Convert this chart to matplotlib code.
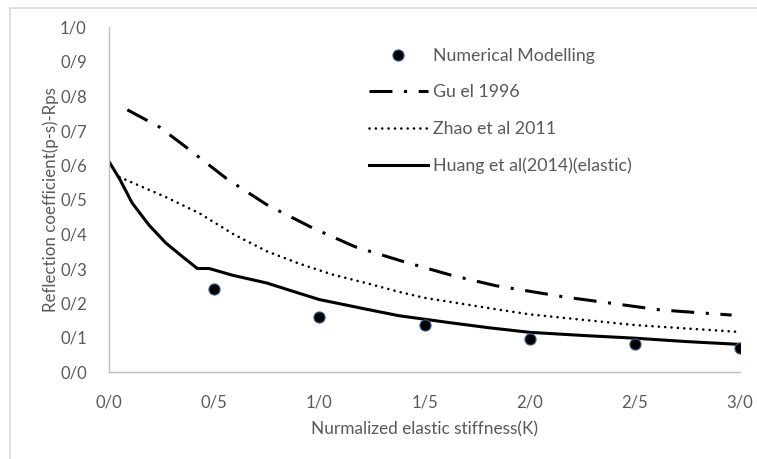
import matplotlib
matplotlib.use("Agg")
import matplotlib.pyplot as plt
from matplotlib.patches import Rectangle
from matplotlib.ticker import FuncFormatter, MultipleLocator

# numerical modelling points
num_x = [0.5, 1.0, 1.5, 2.0, 2.5, 3.0]
num_y = [0.24, 0.16, 0.136, 0.096, 0.081, 0.07]

# Gu el 1996
gu_x = [0.087, 0.24, 0.37, 0.56, 0.75, 0.97, 1.17, 1.40, 1.63, 1.84, 2.16, 2.62, 2.96]
gu_y = [0.76, 0.71, 0.65, 0.56, 0.485, 0.417, 0.363, 0.32, 0.28, 0.25, 0.218, 0.18, 0.165]

# Zhao et al 2011
zhao_x = [0.05, 0.27, 0.43, 0.59, 0.75, 0.9, 1.06, 1.24, 1.38, 1.5, 1.86, 2.0, 2.5, 3.0]
zhao_y = [0.565, 0.507, 0.46, 0.40, 0.35, 0.315, 0.283, 0.255, 0.232, 0.215, 0.18, 0.167, 0.136, 0.116]

# Huang et al (2014) elastic
huang_x = [0.0, 0.05, 0.11, 0.19, 0.27, 0.35, 0.42, 0.476, 0.59, 0.75, 0.9, 1.0, 1.24, 1.38, 1.5, 1.62, 1.81, 2.0, 2.25, 2.5, 2.75, 3.0]
huang_y = [0.61, 0.56, 0.49, 0.426, 0.374, 0.334, 0.30, 0.30, 0.28, 0.258, 0.229, 0.21, 0.18, 0.163, 0.153, 0.143, 0.128, 0.115, 0.106, 0.098, 0.088, 0.08]

TEXT = "#595959"
plt.rcParams['font.family'] = ['Lato', 'DejaVu Sans']

fig = plt.figure(figsize=(7.57, 4.59), dpi=100)
# chart frame (cropped at right and bottom)
fig.patches.append(Rectangle((10 / 757, -0.1), 1.1, 1 - 8 / 459 + 0.1,
                             transform=fig.transFigure, fill=False,
                             edgecolor="#d9d9d9", lw=1.2))

ax = fig.add_axes([109 / 757, 1 - 372 / 459, 631 / 757, 345 / 459])

ax.plot(num_x, num_y, 'o', color='black', markeredgecolor='#2e5f8f',
        markeredgewidth=0.8, markersize=8, label='Numerical Modelling', zorder=5)
ax.plot(gu_x, gu_y, color='black', lw=2.2, dashes=(7.5, 3.8, 1.0, 3.8),
        dash_capstyle='butt', label='Gu el 1996')
ax.plot(zhao_x, zhao_y, color='black', lw=1.9, dashes=(0.01, 2.4),
        dash_capstyle='round', label='Zhao et al 2011')
ax.plot(huang_x, huang_y, color='black', lw=2.2, label='Huang et al(2014)(elastic)')

ax.set_xlim(0, 3)
ax.set_ylim(0, 1)
ax.xaxis.set_major_locator(MultipleLocator(0.5))
ax.yaxis.set_major_locator(MultipleLocator(0.1))
fmt = FuncFormatter(lambda v, p: ("%.1f" % v).replace(".", "/"))
ax.xaxis.set_major_formatter(fmt)
ax.yaxis.set_major_formatter(fmt)
ax.tick_params(length=0, labelsize=12, colors=TEXT)
ax.tick_params(axis='y', pad=16)
ax.tick_params(axis='x', pad=16)

for s in ['top', 'right']:
    ax.spines[s].set_visible(False)
for s in ['left', 'bottom']:
    ax.spines[s].set_color('#bfbfbf')
    ax.spines[s].set_linewidth(1.0)

ax.set_xlabel('Nurmalized elastic stiffness(K)', fontsize=12.4, color=TEXT, labelpad=8)
ax.set_ylabel('Reflection coefficient(p-s)-Rps', fontsize=12.2, color=TEXT, labelpad=1)

leg = ax.legend(loc='upper left', bbox_to_anchor=(369 / 757, 1 - 48 / 459),
                bbox_transform=fig.transFigure, frameon=False, fontsize=12.8,
                handlelength=3.3, handletextpad=0.3, labelspacing=1.15,
                borderpad=0, borderaxespad=0)
for t in leg.get_texts():
    t.set_color(TEXT)

fig.savefig('out.png', dpi=100, facecolor='white')
